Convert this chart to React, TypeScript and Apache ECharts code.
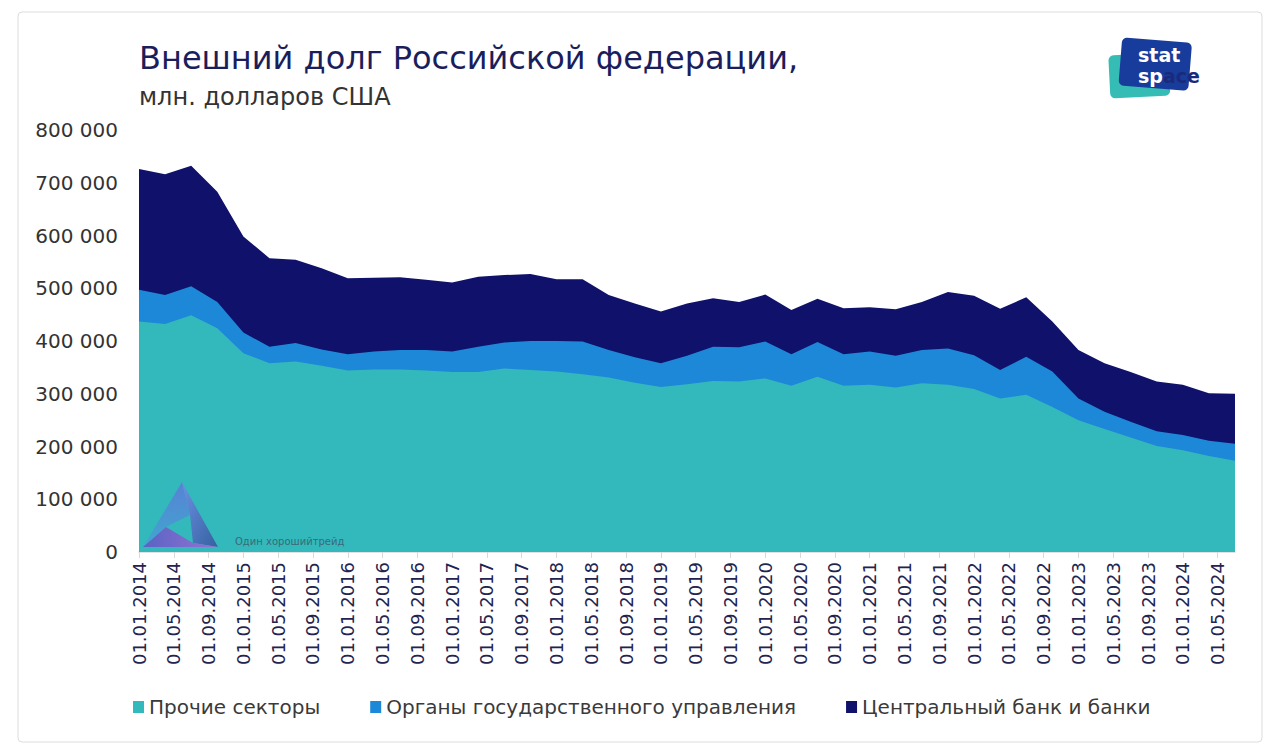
import React, { useEffect, useRef } from "react";
import * as echarts from "echarts";

const quarterDates = [
  "01.01.2014", "01.04.2014", "01.07.2014", "01.10.2014",
  "01.01.2015", "01.04.2015", "01.07.2015", "01.10.2015",
  "01.01.2016", "01.04.2016", "01.07.2016", "01.10.2016",
  "01.01.2017", "01.04.2017", "01.07.2017", "01.10.2017",
  "01.01.2018", "01.04.2018", "01.07.2018", "01.10.2018",
  "01.01.2019", "01.04.2019", "01.07.2019", "01.10.2019",
  "01.01.2020", "01.04.2020", "01.07.2020", "01.10.2020",
  "01.01.2021", "01.04.2021", "01.07.2021", "01.10.2021",
  "01.01.2022", "01.04.2022", "01.07.2022", "01.10.2022",
  "01.01.2023", "01.04.2023", "01.07.2023", "01.10.2023",
  "01.01.2024", "01.04.2024", "01.07.2024",
];

const otherSectors = [
  437000, 432000, 449000, 424000, 377000, 358000, 361000, 353000,
  344000, 346000, 346000, 344000, 341000, 341000, 348000, 345000,
  342000, 337000, 331000, 321000, 313000, 318000, 324000, 323000,
  329000, 315000, 332000, 315000, 317000, 312000, 320000, 317000,
  309000, 291000, 298000, 275000, 250000, 233000, 217000, 201000,
  193000, 182000, 173000,
];

const government = [
  60000, 55000, 55000, 50000, 39000, 31000, 35000, 31000,
  31000, 34000, 37000, 39000, 39000, 48000, 49000, 55000,
  58000, 62000, 52000, 48000, 45000, 54000, 65000, 65000,
  70000, 60000, 66000, 60000, 63000, 60000, 63000, 69000,
  64000, 54000, 72000, 67000, 41000, 33000, 30000, 28000,
  29000, 29000, 32000,
];

const banks = [
  229000, 229000, 228000, 209000, 182000, 168000, 158000, 154000,
  144000, 140000, 138000, 133000, 131000, 133000, 128000, 127000,
  117000, 118000, 104000, 102000, 98000, 99000, 92000, 86000,
  89000, 84000, 82000, 87000, 84000, 88000, 91000, 107000,
  113000, 116000, 113000, 95000, 92000, 92000, 94000, 94000,
  95000, 90000, 95000,
];

const xTickLabels = [
  "01.01.2014", "01.05.2014", "01.09.2014",
  "01.01.2015", "01.05.2015", "01.09.2015",
  "01.01.2016", "01.05.2016", "01.09.2016",
  "01.01.2017", "01.05.2017", "01.09.2017",
  "01.01.2018", "01.05.2018", "01.09.2018",
  "01.01.2019", "01.05.2019", "01.09.2019",
  "01.01.2020", "01.05.2020", "01.09.2020",
  "01.01.2021", "01.05.2021", "01.09.2021",
  "01.01.2022", "01.05.2022", "01.09.2022",
  "01.01.2023", "01.05.2023", "01.09.2023",
  "01.01.2024", "01.05.2024",
];

const seriesNames = [
  "Прочие секторы",
  "Органы государственного управления",
  "Центральный банк и банки",
];

const yTicks = [0, 100000, 200000, 300000, 400000, 500000, 600000, 700000, 800000];

const COLORS = ["#33b9bb", "#1e88d8", "#0f116a"];
const FONT = "DejaVu Sans";

function monthIndex(d: string): number {
  const [, mm, yyyy] = d.split(".");
  return (parseInt(yyyy, 10) - 2014) * 12 + (parseInt(mm, 10) - 1);
}

function fmtThousands(v: number): string {
  return String(v).replace(/\B(?=(\d{3})+(?!\d))/g, " ");
}

export default function App() {
  const ref = useRef<HTMLDivElement>(null);

  useEffect(() => {
    if (!ref.current) return;
    const chart = echarts.init(ref.current, undefined, { renderer: "svg" });

    const xs = quarterDates.map(monthIndex);
    const tickVals = xTickLabels.map(monthIndex);
    const labelMap: Record<number, string> = {};
    xTickLabels.forEach((l) => (labelMap[monthIndex(l)] = l));

    // Stacked layers: cumulative tops, drawn from the top layer down so each lower layer covers the one above it
    const lists = [otherSectors, government, banks];
    const cumulative = lists.map((_, i) =>
      quarterDates.map((_, j) => lists.slice(0, i + 1).reduce((s, arr) => s + arr[j], 0))
    );

    const series = [2, 1, 0].map((i) => ({
      name: seriesNames[i],
      type: "line",
      data: cumulative[i].map((v, j) => [xs[j], v]),
      showSymbol: false,
      symbol: "none",
      lineStyle: { width: 0, color: COLORS[i] },
      areaStyle: { color: COLORS[i], opacity: 1, origin: 0 },
      itemStyle: { color: COLORS[i] },
      emphasis: { disabled: true },
      z: 2,
    }));

    chart.setOption({
      animation: false,
      backgroundColor: "#ffffff",
      title: [
        {
          text: "Внешний долг Российской федерации,",
          left: 134,
          top: 37,
          textStyle: { fontFamily: FONT, fontSize: 32, fontWeight: "normal", color: "#1b1e5c" },
        },
        {
          text: "млн. долларов США",
          left: 134,
          top: 80,
          textStyle: { fontFamily: FONT, fontSize: 24, fontWeight: "normal", color: "#333333" },
        },
      ],
      legend: {
        left: 128,
        top: 692,
        itemGap: 50,
        itemWidth: 11,
        itemHeight: 12,
        icon: "rect",
        data: seriesNames,
        selectedMode: false,
        textStyle: { fontFamily: FONT, fontSize: 20, color: "#3a3a3a" },
      },
      grid: { left: 139, right: 45, top: 130, bottom: 204, containLabel: false },
      xAxis: {
        type: "value",
        min: 0,
        max: 126,
        interval: 4,
        axisLine: { show: true, lineStyle: { color: "#d9d9d9", width: 1.5 } },
        axisTick: {
          show: true,
          customValues: tickVals,
          length: 6,
          lineStyle: { color: "#d9d9d9" },
        },
        splitLine: { show: false },
        axisLabel: {
          customValues: tickVals,
          rotate: 90,
          margin: 10,
          fontFamily: FONT,
          fontSize: 18,
          color: "#23234f",
          formatter: (v: number) => labelMap[v] || "",
        },
      },
      yAxis: {
        type: "value",
        min: yTicks[0],
        max: yTicks[yTicks.length - 1],
        interval: 100000,
        axisLine: { show: false },
        axisTick: { show: false },
        splitLine: { show: false },
        axisLabel: {
          margin: 21,
          fontFamily: FONT,
          fontSize: 20,
          color: "#333333",
          formatter: (v: number) => fmtThousands(v),
        },
      },
      graphic: [
        // card border
        {
          type: "rect",
          shape: { x: 18, y: 12, width: 1244, height: 730, r: 4 },
          style: { fill: "none", stroke: "#dcdcdc", lineWidth: 1 },
          silent: true,
          z: 0,
        },
        // statspace logo
        {
          type: "rect",
          shape: { x: 1109, y: 54, width: 60, height: 43, r: 5 },
          rotation: 0.05,
          originX: 1139,
          originY: 75,
          style: { fill: "#35bdb5" },
          z: 10,
        },
        {
          type: "rect",
          shape: { x: 1120, y: 40, width: 70, height: 48, r: 5 },
          rotation: -0.08,
          originX: 1155,
          originY: 64,
          style: { fill: "#173c9b" },
          z: 11,
        },
        {
          type: "text",
          x: 1138,
          y: 44,
          style: {
            text: "{w|stat}\n{w|sp}{n|ace}",
            fontFamily: FONT,
            fontSize: 19,
            fontWeight: "bold",
            lineHeight: 21,
            rich: {
              w: { fill: "#ffffff", fontFamily: FONT, fontSize: 19, fontWeight: "bold", lineHeight: 21 },
              n: { fill: "#1a2a7a", fontFamily: FONT, fontSize: 19, fontWeight: "bold", lineHeight: 21 },
            },
          },
          z: 12,
        },
        // watermark triangle
        {
          type: "polygon",
          shape: { points: [[182, 482], [143, 547], [166, 527], [190, 515]] },
          style: {
            fill: new echarts.graphic.LinearGradient(0, 0, 0, 1, [
              { offset: 0, color: "#5a7fd6" },
              { offset: 1, color: "#3fa6d0" },
            ]),
            opacity: 0.95,
          },
          z: 5,
        },
        {
          type: "polygon",
          shape: { points: [[182, 482], [218, 547], [193, 543], [190, 515]] },
          style: {
            fill: new echarts.graphic.LinearGradient(0, 0, 1, 1, [
              { offset: 0, color: "#6f8fe6" },
              { offset: 1, color: "#355c9e" },
            ]),
            opacity: 0.95,
          },
          z: 5,
        },
        {
          type: "polygon",
          shape: { points: [[143, 547], [218, 547], [193, 543], [166, 527]] },
          style: {
            fill: new echarts.graphic.LinearGradient(0, 0, 1, 0, [
              { offset: 0, color: "#5a5fc4" },
              { offset: 1, color: "#9a6fd4" },
            ]),
            opacity: 0.95,
          },
          z: 5,
        },
        {
          type: "text",
          x: 235,
          y: 536,
          style: { text: "Один хорошийтрейд", fill: "#3a6a78", fontFamily: FONT, fontSize: 10 },
          z: 5,
        },
      ],
      series,
    });

    return () => chart.dispose();
  }, []);

  return (
    <div
      ref={ref}
      style={{ position: "absolute", left: 0, top: 0, width: 1280, height: 756 }}
    />
  );
}
